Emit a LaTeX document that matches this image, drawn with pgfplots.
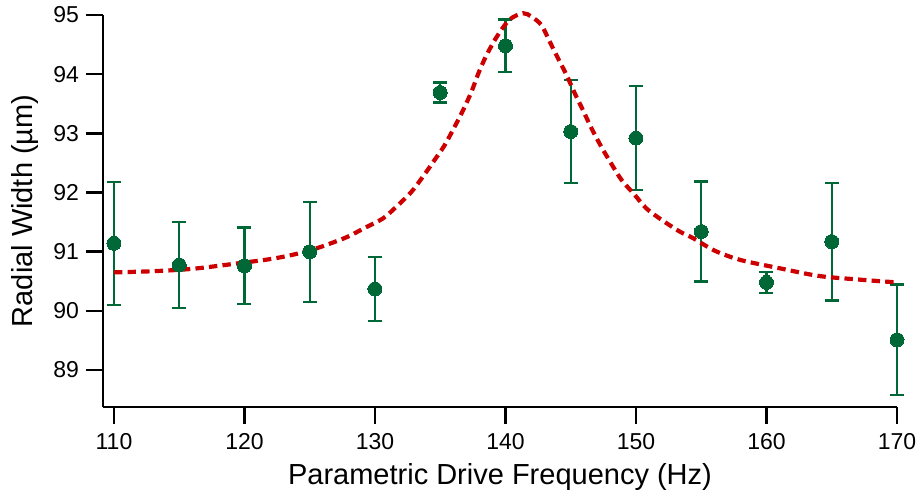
\documentclass[border=0pt]{standalone}
\usepackage{pgfplots}
\pgfplotsset{compat=1.18}
\usepackage{fontspec}
\setmainfont{Liberation Sans}
\definecolor{dgreen}{RGB}{0,104,55}
\definecolor{fitred}{RGB}{204,0,0}
\begin{document}
\begin{tikzpicture}
\begin{axis}[
  scale only axis,
  width=397pt, height=195.85pt,
  xmin=109.16, xmax=170, ymin=88.38, ymax=95,
  axis lines*=left,
  axis line style={line width=1.2pt, black},
  every tick/.style={line width=1.2pt, black},
  tick align=outside,
  major tick length=8.5pt,
  xtick={110,120,...,170},
  ytick={89,90,...,95},
  /pgf/number format/assume math mode=true,
  tick label style={font=\fontsize{11.5}{13}\selectfont},
  xticklabel style={yshift=-1.5pt},
  yticklabel style={xshift=0pt},
  clip=false,
  xlabel={Parametric Drive Frequency (Hz)},
  ylabel={Radial Width (µm)},
  label style={font=\fontsize{14.5}{17}\selectfont},
  xlabel style={at={(axis description cs:0.5,0)}, anchor=base, yshift=-39pt},
  ylabel style={at={(axis description cs:-0.0894,0.5)}, anchor=base, rotate=0},
]
\addplot[only marks, mark=*, mark size=3.5pt, color=dgreen,
  mark options={fill=dgreen, draw=dgreen, line width=0pt},
  error bars/.cd, y dir=both, y explicit,
  error bar style={line width=1.1pt, color=dgreen},
  error mark options={rotate=90, mark size=3.5pt, line width=1.1pt, color=dgreen}]
table[x=x, y=y, y error=e] {
x y e
110 91.14 1.035
115 90.775 0.725
120 90.76 0.65
125 91.00 0.845
130 90.37 0.535
135 93.69 0.17
140 94.48 0.445
145 93.03 0.87
150 92.92 0.88
155 91.34 0.845
160 90.48 0.175
165 91.17 0.995
170 89.51 0.935
};
\addplot[smooth, color=fitred, line width=2.1pt, dash pattern=on 4.2pt off 2.6pt]
coordinates {
(110.0,90.65) (113,90.67) (116,90.71) (119.4,90.80) (122.4,90.89) (125,91.02)
(127.67,91.23) (129.2,91.40) (130.6,91.56) (131.64,91.76) (132.79,92.01)
(133.68,92.27) (134.57,92.55) (135.34,92.80) (136.1,93.11) (136.75,93.39)
(137.39,93.70) (137.9,94.00) (138.5,94.30) (139.3,94.62) (140.3,94.92)
(141.35,95.03) (142.0,94.97) (142.75,94.83) (143.39,94.55) (144.02,94.27)
(144.67,93.99) (145.3,93.68) (145.94,93.39) (146.58,93.09) (147.35,92.77)
(148.1,92.49) (148.9,92.21) (149.9,91.96) (150.8,91.73) (151.95,91.54)
(153.35,91.34) (154.37,91.23) (156,91.02) (158,90.86)
(161,90.72) (164,90.59) (167,90.53) (170,90.48)
};
\end{axis}
\pgfresetboundingbox
\path (-51.5pt,-45.65pt) rectangle (409pt,203.35pt);
\end{tikzpicture}
\end{document}
